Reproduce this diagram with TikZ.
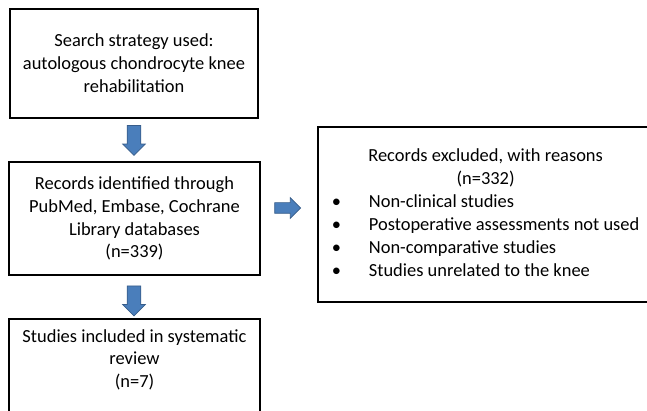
\documentclass[tikz,border=0pt]{standalone}
\usepackage{fontspec}
\setmainfont{Carlito}
\usetikzlibrary{positioning,shapes.arrows}
\definecolor{arrowfill}{HTML}{4A7EBB}
\definecolor{arrowline}{HTML}{385D8A}

\begin{document}
\begin{tikzpicture}[x=0.02cm, y=-0.02cm, font=\fontsize{10.5}{13}\selectfont]
\tikzstyle{box} = [draw=black, line width=1.3pt, align=center, inner sep=0pt]
\tikzstyle{blockarrow} = [single arrow, fill=arrowfill, draw=arrowline, thin, inner xsep=0pt]
\useasboundingbox (0,0) rectangle (647,411);
\node[box, minimum width=4.96cm, minimum height=2.18cm] (search) at (134,63.5)
  {Search strategy used:\\autologous chondrocyte knee\\rehabilitation};
\node[box, minimum width=5.02cm, minimum height=2.26cm] (records) at (134.5,218.5)
  {Records identified through\\PubMed, Embase, Cochrane\\Library databases\\(n=339)};
\node[box, minimum width=5.02cm, minimum height=2.3cm, anchor=north] (studies) at (134.5,318) {};
\node[align=center, inner sep=0pt, below=0.22cm of studies.north] (studiestxt)
  {Studies included in systematic\\review\\(n=7)};
\node[box, minimum width=6.7cm, minimum height=3.5cm, anchor=west] (excluded) at (317,214.5)
  {\begin{tabular}{@{}p{0.74cm}@{}l@{}}
   \multicolumn{2}{c}{Records excluded, with reasons}\\
   \multicolumn{2}{c}{(n=332)}\\
   \textbullet & Non-clinical studies\\
   \textbullet & Postoperative assessments not used\\
   \textbullet & Non-comparative studies\\
   \textbullet & Studies unrelated to the knee
   \end{tabular}};
% block arrows between the boxes
\node[blockarrow, rotate=-90, inner ysep=0.13cm, single arrow head extend=0.09cm, minimum height=0.6cm] (a1) at (134,137) {};
\node[blockarrow, rotate=-90, inner ysep=0.13cm, single arrow head extend=0.09cm, minimum height=0.6cm] (a2) at (134,297.5) {};
\node[blockarrow, inner ysep=0.1cm, single arrow head extend=0.1cm, minimum height=0.52cm] (a3) at (285,208) {};
\end{tikzpicture}
\end{document}
